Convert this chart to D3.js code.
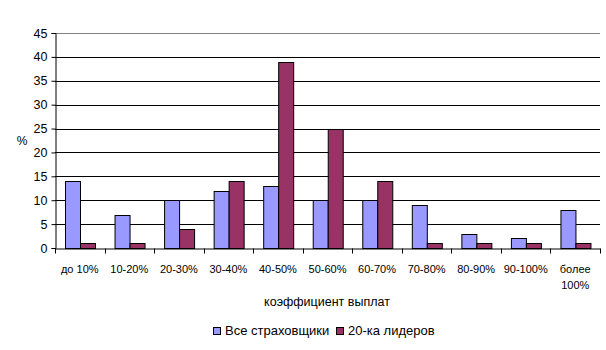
<!DOCTYPE html>
<html>
<head>
<meta charset="utf-8">
<script src="https://cdn.jsdelivr.net/npm/d3@7"></script>
<style>
  body { margin: 0; background: #fff; }
  svg text { font-family: "Liberation Sans", Arial, sans-serif; fill: #000; }
</style>
</head>
<body>
<div id="chart"></div>
<script>
const width = 606;
const height = 350;

// chart data
const categories = ['до 10%', '10-20%', '20-30%', '30-40%', '40-50%', '50-60%', '60-70%', '70-80%', '80-90%', '90-100%', 'более 100%'];
const allInsurers = [14, 7, 10, 12, 13, 10, 10, 9, 3, 2, 8];
const top20 = [1, 1, 4, 14, 39, 25, 14, 1, 1, 1, 1];
const seriesNames = ['Все страховщики', '20-ка лидеров'];
const seriesColors = ['#9999ff', '#993366'];
const yTicks = [0, 5, 10, 15, 20, 25, 30, 35, 40, 45];

const margin = { top: 33, right: 6, bottom: 102, left: 55 };
const plotW = width - margin.left - margin.right;
const plotH = height - margin.top - margin.bottom;

const svg = d3.select('#chart').append('svg')
    .attr('width', width)
    .attr('height', height);

const g = svg.append('g')
    .attr('transform', `translate(${margin.left},${margin.top})`);

const x = d3.scaleBand()
    .domain(categories)
    .range([0, plotW])
    .paddingInner(0)
    .paddingOuter(0);

const xs = d3.scaleBand()
    .domain([0, 1])
    .range([x.bandwidth() * 0.2, x.bandwidth() * 0.8]);

const y = d3.scaleLinear()
    .domain([0, 45])
    .range([plotH, 0]);

// gridlines
g.append('g').selectAll('line')
    .data(yTicks.filter(t => t > 0))
    .enter()
    .append('line')
    .attr('x1', 0)
    .attr('x2', plotW)
    .attr('y1', d => Math.round(y(d)) + 0.5)
    .attr('y2', d => Math.round(y(d)) + 0.5)
    .attr('stroke', d => d === 45 ? '#808080' : '#000')
    .attr('stroke-width', 1);

// bars
const rows = categories.map((c, i) => ({ cat: c, vals: [allInsurers[i], top20[i]] }));
const grp = g.selectAll('g.cat')
    .data(rows)
    .enter()
    .append('g')
    .attr('class', 'cat')
    .attr('transform', d => `translate(${x(d.cat)},0)`);

grp.selectAll('rect')
    .data(d => d.vals.map((v, k) => ({ v, k })))
    .enter()
    .append('rect')
    .attr('x', d => Math.round(xs(d.k)) + 0.5)
    .attr('y', d => Math.round(y(d.v)) + 0.5)
    .attr('width', Math.round(xs.bandwidth()))
    .attr('height', d => Math.round(y(0)) - Math.round(y(d.v)))
    .attr('fill', d => seriesColors[d.k])
    .attr('stroke', '#000')
    .attr('stroke-width', 1);

// y axis
const yAxis = g.append('g')
    .attr('transform', 'translate(0.5,0)')
    .call(d3.axisLeft(y).tickValues(yTicks).tickSize(4).tickPadding(4));
yAxis.select('.domain').attr('stroke', '#000');
yAxis.selectAll('.tick line').attr('stroke', '#000');
yAxis.selectAll('.tick text').attr('font-size', '12.5px');

// x axis
const xAxis = g.append('g')
    .attr('transform', `translate(0,${Math.round(plotH) + 0.5})`)
    .call(d3.axisBottom(x).tickSize(0).tickFormat(''));
xAxis.select('.domain').attr('stroke', '#000');

// tick marks at category boundaries
xAxis.selectAll('line.bnd')
    .data(d3.range(categories.length + 1))
    .enter()
    .append('line')
    .attr('class', 'bnd')
    .attr('x1', i => Math.round(i * x.step()) + 0.5)
    .attr('x2', i => Math.round(i * x.step()) + 0.5)
    .attr('y1', 0)
    .attr('y2', 5)
    .attr('stroke', '#000');

// category labels (wrap "более 100%")
const lbl = xAxis.selectAll('text.cl')
    .data(categories)
    .enter()
    .append('text')
    .attr('class', 'cl')
    .attr('text-anchor', 'middle')
    .attr('font-size', '11px')
    .attr('x', d => x(d) + x.bandwidth() / 2)
    .attr('y', 24);
lbl.each(function(d) {
    const parts = d.startsWith('более') ? d.split(' ') : [d];
    d3.select(this).selectAll('tspan')
        .data(parts)
        .enter()
        .append('tspan')
        .attr('x', x(d) + x.bandwidth() / 2)
        .attr('dy', (p, i) => i === 0 ? 0 : 16)
        .text(p => p);
});

// axis titles
svg.append('text')
    .attr('x', 22)
    .attr('y', 145)
    .attr('text-anchor', 'middle')
    .attr('font-size', '12px')
    .text('%');

svg.append('text')
    .attr('x', 327)
    .attr('y', 306)
    .attr('text-anchor', 'middle')
    .attr('font-size', '12.5px')
    .text('коэффициент выплат');

// legend
const legendX = [213, 336];
const leg = svg.append('g').selectAll('g')
    .data(seriesNames)
    .enter()
    .append('g')
    .attr('transform', (d, i) => `translate(${legendX[i]},335)`);

leg.append('rect')
    .attr('x', 0.5)
    .attr('y', -7.5)
    .attr('width', 7)
    .attr('height', 7)
    .attr('fill', (d, i) => seriesColors[i])
    .attr('stroke', '#000');

leg.append('text')
    .attr('x', 12)
    .attr('y', 0)
    .attr('font-size', '13px')
    .text(d => d);
</script>
</body>
</html>
